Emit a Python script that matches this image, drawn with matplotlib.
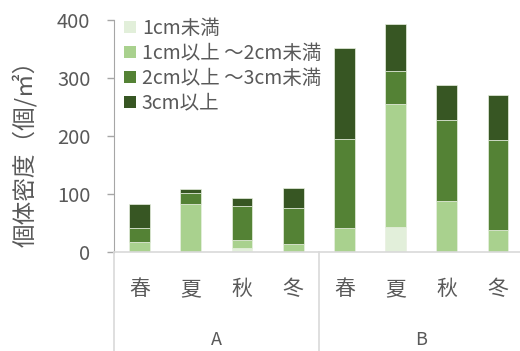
import matplotlib.pyplot as plt
from matplotlib.patches import Patch
import numpy as np

plt.rcParams['font.family'] = ['Noto Sans CJK JP', 'DejaVu Sans']

# seasons within each site
seasons = ['春', '夏', '秋', '冬', '春', '夏', '秋', '冬']
sites = ['A', 'B']

# density per size class (individuals / m2)
lt1 = [0, 0, 7, 0, 0, 43, 0, 0]
s1to2 = [18, 84, 14, 14, 42, 212, 88, 38]
s2to3 = [24, 18, 59, 62, 153, 57, 140, 156]
ge3 = [41, 7, 13, 35, 158, 81, 60, 77]

labels = ['1cm未満', '1cm以上 ～2cm未満', '2cm以上 ～3cm未満', '3cm以上']
colors = ['#E2EFDA', '#A9D18E', '#548235', '#375623']

gray = '#595959'
fig = plt.figure(figsize=(5.2, 3.51), dpi=100)
ax = fig.add_axes([114 / 520, 98.7 / 351, 409.6 / 520, 232 / 351])

x = np.arange(len(seasons))
bottom = np.zeros(len(seasons))
for vals, c in zip([lt1, s1to2, s2to3, ge3], colors):
    ax.bar(x, vals, width=0.41, bottom=bottom, color=c,
           edgecolor='#E8F0E0', linewidth=0.5)
    bottom += np.array(vals)

ax.set_xlim(-0.5, 7.5)
ax.set_ylim(0, 400)
ax.set_yticks([0, 100, 200, 300, 400])
ax.tick_params(axis='y', colors='#A6A6A6', labelcolor=gray, labelsize=14.5,
               length=5, width=1, pad=12)
ax.set_xticks([])

for s in ['top', 'right']:
    ax.spines[s].set_visible(False)
ax.spines['left'].set_color('#A6A6A6')
ax.spines['bottom'].set_color('#D9D9D9')
ax.spines['bottom'].set_linewidth(1.2)

# two-level category axis: season labels, then site labels with dividers
tr = ax.get_xaxis_transform()
for i, s in enumerate(seasons):
    ax.text(i, -0.158, s, transform=tr, ha='center', va='center',
            fontsize=15, color=gray)
for j, site in enumerate(sites):
    ax.text(1.5 + 4 * j, -0.38, site, transform=tr, ha='center',
            va='center', fontsize=13, color=gray)
for xd in [-0.5, 3.5, 7.5]:
    ax.plot([xd, xd], [0, -0.43], transform=tr, color='#D9D9D9',
            linewidth=1.2, clip_on=False)

fig.text(25 / 520, 1 - 148 / 351, '個体密度（個/㎡）', rotation=90,
         ha='center', va='center', fontsize=17, color=gray)

handles = [Patch(facecolor=c, edgecolor='none') for c in colors]
ax.legend(handles, labels, loc='upper left',
          bbox_to_anchor=(10 / 409.6, 1.01),
          frameon=False, fontsize=14, labelcolor=gray,
          handlelength=0.62, handleheight=0.62, handletextpad=0.3,
          labelspacing=0.2, borderaxespad=0, borderpad=0)

fig.savefig('out.png', dpi=100)
